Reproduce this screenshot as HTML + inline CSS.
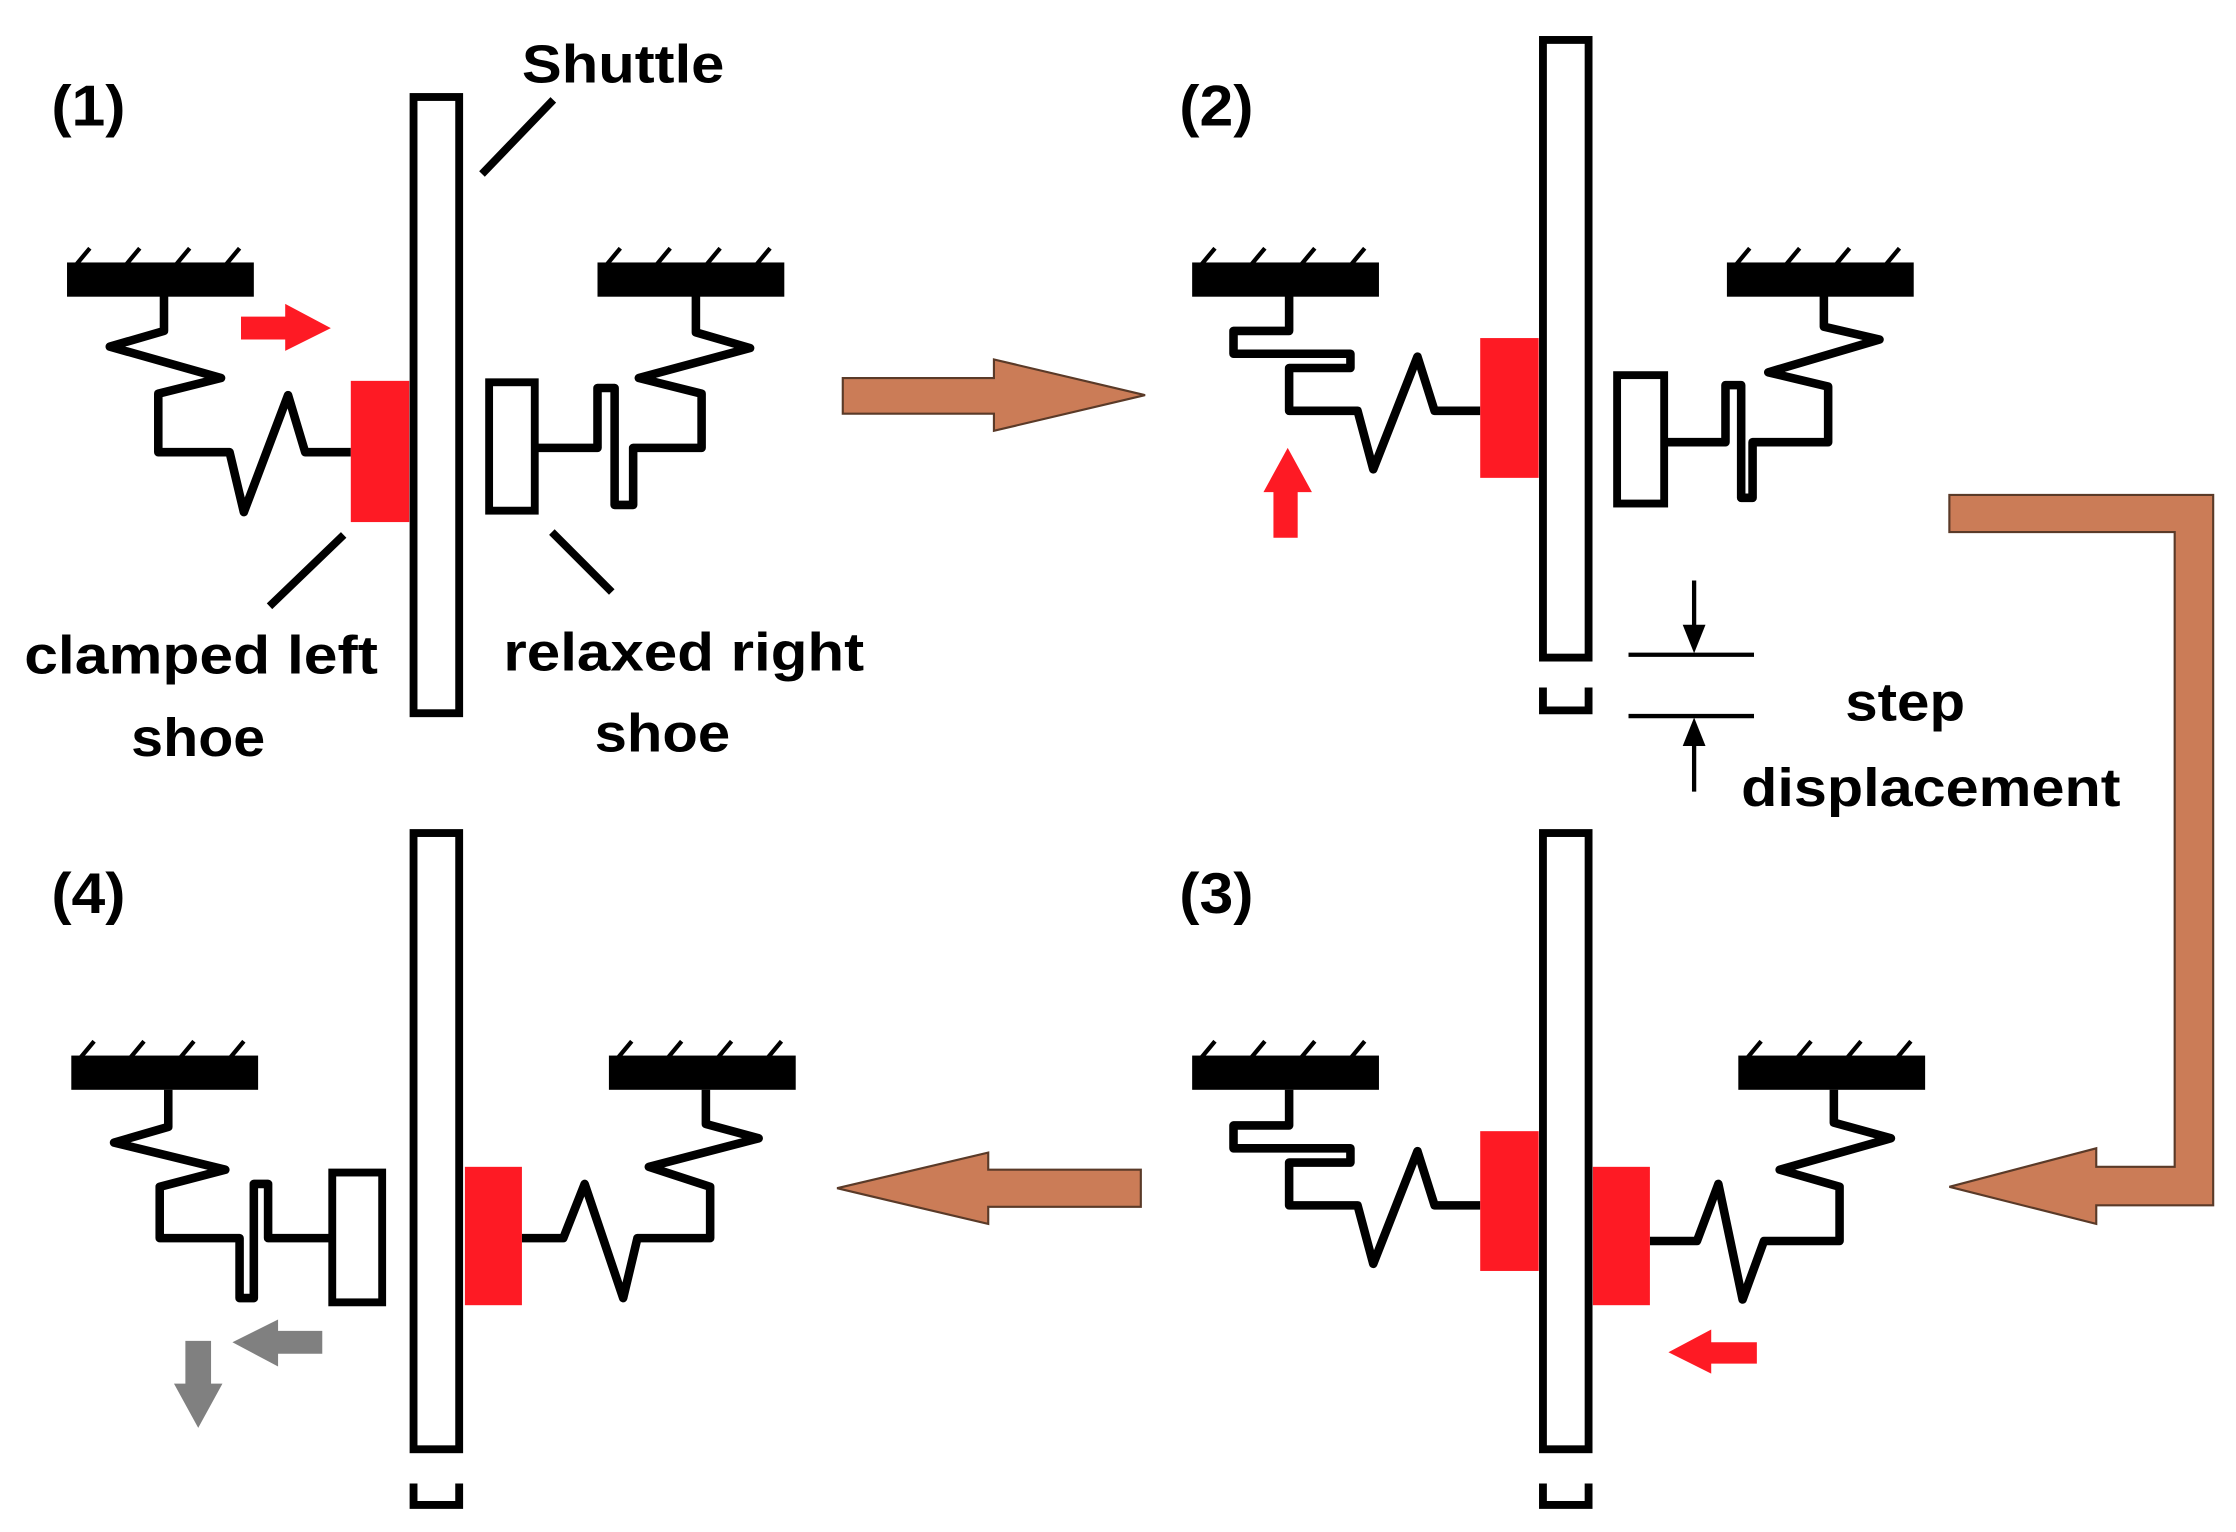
<!DOCTYPE html>
<html><head><style>html,body{margin:0;padding:0;background:#fff}svg{display:block}</style></head>
<body>
<svg width="2236" height="1532" viewBox="0 0 1568 1074" preserveAspectRatio="none" xmlns="http://www.w3.org/2000/svg">
<defs>
<g id="gnd">
<rect x="0" y="0" width="131" height="24" fill="#000"/>
<g stroke="#000" stroke-width="3">
<line x1="6" y1="2" x2="16" y2="-10"/><line x1="41" y1="2" x2="51" y2="-10"/><line x1="76" y1="2" x2="86" y2="-10"/><line x1="111" y1="2" x2="121" y2="-10"/>
</g>
</g>
</defs>
<g font-family="'Liberation Sans', sans-serif" font-weight="bold" fill="#000">
<text x="36" y="88" font-size="40" textLength="52" lengthAdjust="spacingAndGlyphs">(1)</text>
<text x="827" y="88" font-size="40" textLength="52" lengthAdjust="spacingAndGlyphs">(2)</text>
<text x="827" y="640" font-size="40" textLength="52" lengthAdjust="spacingAndGlyphs">(3)</text>
<text x="36" y="640" font-size="40" textLength="52" lengthAdjust="spacingAndGlyphs">(4)</text>
<text x="366" y="58" font-size="38" textLength="142" lengthAdjust="spacingAndGlyphs">Shuttle</text>
<text x="17" y="472" font-size="38" textLength="248" lengthAdjust="spacingAndGlyphs">clamped left</text>
<text x="92" y="530" font-size="38" textLength="94" lengthAdjust="spacingAndGlyphs">shoe</text>
<text x="353" y="470" font-size="38" textLength="253" lengthAdjust="spacingAndGlyphs">relaxed right</text>
<text x="417" y="527" font-size="38" textLength="95" lengthAdjust="spacingAndGlyphs">shoe</text>
<text x="1294" y="505" font-size="38" textLength="84" lengthAdjust="spacingAndGlyphs">step</text>
<text x="1221" y="565" font-size="38" textLength="266" lengthAdjust="spacingAndGlyphs">displacement</text>
</g>

<g fill="none" stroke="#000" stroke-width="5.5" stroke-linejoin="miter">
<rect x="290" y="68" width="32" height="432" fill="#fff"/>
<rect x="1082" y="28" width="32" height="433" fill="#fff"/>
<rect x="1082" y="584" width="32" height="432" fill="#fff"/>
<rect x="290" y="584" width="32" height="432" fill="#fff"/>
<path d="M1082 482 V498 H1114 V482"/>
<path d="M1082 1040 V1055 H1114 V1040"/>
<path d="M290 1040 V1055 H322 V1040"/>
<line x1="338" y1="122" x2="388" y2="70"/>
<line x1="241" y1="375" x2="189" y2="425"/>
<line x1="387" y1="373" x2="429" y2="415"/>
<rect x="343" y="268" width="32" height="90"/>
<rect x="1134" y="263" width="33" height="90"/>
<rect x="233" y="822" width="35" height="91"/>
<line x1="1142" y1="459" x2="1230" y2="459" stroke-width="3"/>
<line x1="1142" y1="502" x2="1230" y2="502" stroke-width="3"/>
<line x1="1188" y1="407" x2="1188" y2="440" stroke-width="3"/>
<line x1="1188" y1="522" x2="1188" y2="555" stroke-width="3"/>
</g>
<g fill="none" stroke="#000" stroke-width="6" stroke-linejoin="round">
<path d="M115 207 V232 L77 243 L155 265 L111 276 V317 H161 L171 359 L202 277 L214 317 H246"/>
<path d="M488 207 V233 L526 244 L448 265 L492 276 V314 H444 V354 H431 V272 H419 V314 H377"/>
<path d="M904 207 V232 H865 V248 H947 V258 H904 V288 H952 L963 329 L994 250 L1006 288 H1038"/>
<path d="M1279 207 V229 L1318 238 L1240 261 L1282 271 V310 H1229 V349 H1221 V270 H1210 V310 H1169"/>
<path d="M904 764 V789 H865 V805 H947 V815 H904 V845 H952 L963 886 L994 807 L1006 845 H1038"/>
<path d="M1286 764 V787 L1326 798 L1248 820 L1290 832 V870 H1237 L1222 911 L1205 830 L1190 870 H1157"/>
<path d="M118 764 V790 L80 801 L158 820 L112 832 V868 H168 V910 H178 V830 H188 V868 H233"/>
<path d="M495 764 V788 L532 798 L455 818 L498 832 V868 H447 L437 910 L410 830 L395 868 H366"/>
</g>
<path d="M1180 438 H1196 L1188 458 Z" fill="#000"/>
<path d="M1180 523 H1196 L1188 503 Z" fill="#000"/>

<use href="#gnd" x="47" y="184"/>
<use href="#gnd" x="419" y="184"/>
<use href="#gnd" x="836" y="184"/>
<use href="#gnd" x="1211" y="184"/>
<use href="#gnd" x="836" y="740"/>
<use href="#gnd" x="1219" y="740"/>
<use href="#gnd" x="50" y="740"/>
<use href="#gnd" x="427" y="740"/>

<g fill="#fe1a24">
<rect x="246" y="267" width="41" height="99"/>
<rect x="1038" y="237" width="41" height="98"/>
<rect x="1038" y="793" width="41" height="98"/>
<rect x="1117" y="818" width="40" height="97"/>
<rect x="326" y="818" width="40" height="97"/>
<path d="M169 222 H200 V213 L232 230 L200 246 V238 H169 Z"/>
<path d="M893 377 V345 H886 L903 314 L920 345 H910 V377 Z"/>
<path d="M1232 941 H1200 V932 L1170 948 L1200 963 V956 H1232 Z"/>
</g>
<g fill="#808080">
<path d="M226 933 H195 V925 L163 941 L195 958 V949 H226 Z"/>
<path d="M130 940 H148 V970 H156 L139 1001 L122 970 H130 Z"/>
</g>
<g fill="#cb7c57" stroke="#5a3a28" stroke-width="1.5">
<path d="M591 265 H697 V252 L803 277 L697 302 V290 H591 Z"/>
<path d="M800 820 H693 V808 L587 833 L693 858 V846 H800 Z"/>
<path d="M1367 347 H1552 V845 H1470 V858 L1367 832 L1470 805 V818 H1525 V373 H1367 Z"/>
</g>
</svg>
</body></html>
